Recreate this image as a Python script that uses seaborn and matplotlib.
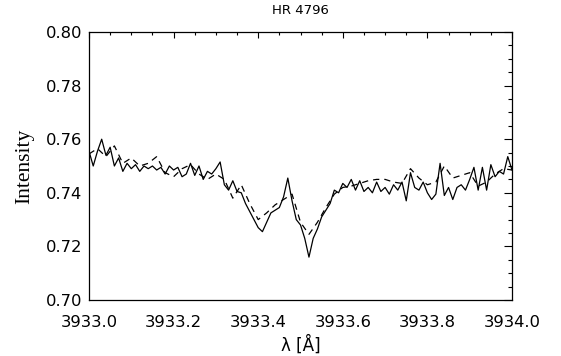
import numpy as np
import pandas as pd
import matplotlib
matplotlib.use("Agg")
import matplotlib.pyplot as plt
import seaborn as sns
from matplotlib.ticker import MultipleLocator, FormatStrFormatter

# ---- data ----
solid_start = 3933.00
solid_step = 0.01
solid_intensity = [
    0.7555, 0.7500, 0.7555, 0.7600, 0.7540, 0.7570, 0.7500, 0.7530, 0.7480, 0.7510,
    0.7490, 0.7505, 0.7480, 0.7500, 0.7490, 0.7500, 0.7485, 0.7495, 0.7470, 0.7500,
    0.7485, 0.7495, 0.7460, 0.7470, 0.7510, 0.7465, 0.7500, 0.7450, 0.7480, 0.7470,
    0.7490, 0.7515, 0.7430, 0.7410, 0.7445, 0.7405, 0.7400, 0.7360, 0.7330, 0.7300,
    0.7270, 0.7255, 0.7290, 0.7325, 0.7335, 0.7345, 0.7385, 0.7455, 0.7370, 0.7300,
    0.7280, 0.7230, 0.7160, 0.7230, 0.7265, 0.7310, 0.7335, 0.7360, 0.7410, 0.7400,
    0.7435, 0.7420, 0.7450, 0.7410, 0.7445, 0.7405, 0.7420, 0.7400, 0.7440, 0.7405,
    0.7420, 0.7395, 0.7430, 0.7410, 0.7440, 0.7370, 0.7475, 0.7420, 0.7410, 0.7440,
    0.7400, 0.7375, 0.7395, 0.7510, 0.7390, 0.7420, 0.7375, 0.7420, 0.7430, 0.7410,
    0.7450, 0.7495, 0.7410, 0.7495, 0.7410, 0.7505, 0.7460, 0.7480, 0.7470, 0.7535,
    0.7485,
]
dashed_start = 3933.00
dashed_step = 0.02
dashed_intensity = [
    0.7545, 0.7565, 0.7535, 0.7575, 0.7510, 0.7530, 0.7500, 0.7510, 0.7535, 0.7475,
    0.7460, 0.7490, 0.7505, 0.7470, 0.7450, 0.7470, 0.7450, 0.7380, 0.7430, 0.7360,
    0.7300, 0.7325, 0.7355, 0.7375, 0.7395, 0.7290, 0.7245, 0.7290, 0.7345, 0.7395,
    0.7420, 0.7425, 0.7435, 0.7445, 0.7450, 0.7450, 0.7440, 0.7435, 0.7490, 0.7455,
    0.7430, 0.7440, 0.7500, 0.7455, 0.7465, 0.7475, 0.7425, 0.7440, 0.7470, 0.7490,
    0.7485,
]
title = "HR 4796"
xlabel = "λ [Å]"
ylabel = "Intensity"
xlim = (3933.0, 3934.0)
ylim = (0.70, 0.80)

solid_wl = solid_start + solid_step * np.arange(len(solid_intensity))
dashed_wl = dashed_start + dashed_step * np.arange(len(dashed_intensity))
df_solid = pd.DataFrame({"wl": solid_wl, "I": solid_intensity})
df_dashed = pd.DataFrame({"wl": dashed_wl, "I": dashed_intensity})

sns.set_style("white")
plt.rcParams["font.family"] = ["DejaVu Sans"]

fig = plt.figure(figsize=(5.61, 3.56), dpi=100)
ax = fig.add_axes([89 / 561, 1 - 300 / 356, (512 - 89) / 561, (300 - 32) / 356])

sns.lineplot(data=df_solid, x="wl", y="I", ax=ax, color="black", lw=0.9,
             estimator=None, sort=False)
sns.lineplot(data=df_dashed, x="wl", y="I", ax=ax, color="black", lw=0.9,
             estimator=None, sort=False)
ax.lines[-1].set_dashes((5, 4))

ax.set_xlim(*xlim)
ax.set_ylim(*ylim)
ax.xaxis.set_major_locator(MultipleLocator(0.2))
ax.xaxis.set_minor_locator(MultipleLocator(0.05))
ax.yaxis.set_major_locator(MultipleLocator(0.02))
ax.yaxis.set_minor_locator(MultipleLocator(0.005))
ax.xaxis.set_major_formatter(FormatStrFormatter("%.1f"))
ax.yaxis.set_major_formatter(FormatStrFormatter("%.2f"))

for s in ax.spines.values():
    s.set_color("black")
    s.set_linewidth(0.9)

ax.tick_params(axis="both", which="both", direction="in", top=True, right=True,
               color="black", width=0.8, labelsize=11.8, labelcolor="black")
ax.tick_params(axis="x", which="major", length=4, pad=11)
ax.tick_params(axis="x", which="minor", length=2)
ax.tick_params(axis="y", which="major", length=6, pad=5)
ax.tick_params(axis="y", which="minor", length=3)

ax.set_title(title, fontsize=9.5, pad=13, color="black")
ax.set_xlabel(xlabel, fontsize=12, labelpad=4, color="black")
ax.set_ylabel(ylabel, fontsize=15.5, family=["Liberation Serif", "DejaVu Serif"],
              labelpad=8, color="black")

fig.savefig("out.png", dpi=100, facecolor="white")
